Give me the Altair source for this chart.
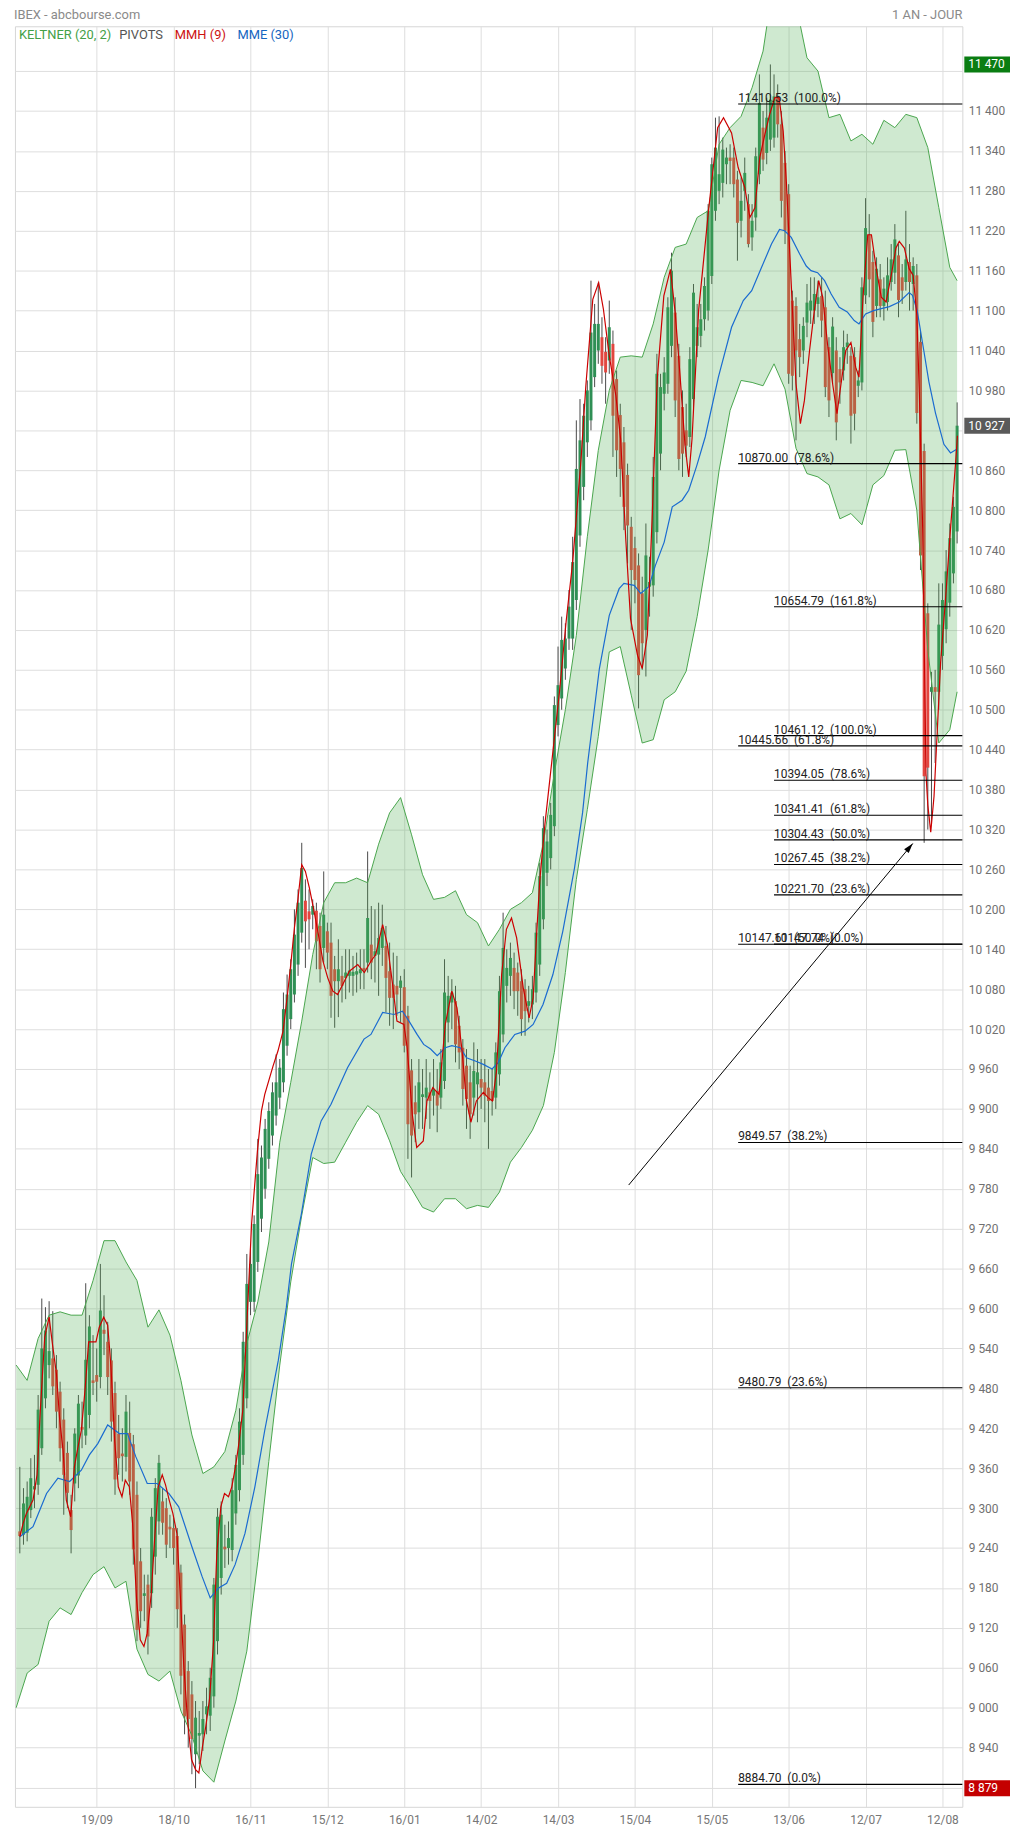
import altair as alt
import pandas as pd

# ---------------- data ----------------
opens = [9265,9260,9263,9297,9328,9335,9390,9465,9515,9525,
 9508,9475,9433,9383,9297,9337,9349,9422,9409,9440,
 9492,9500,9497,9568,9550,9522,9473,9412,9382,9377,
 9413,9396,9320,9220,9168,9185,9172,9227,9280,9310,
 9300,9272,9270,9258,9203,9125,9055,9020,8930,8958,
 8960,8990,8988,9017,9100,9195,9242,9240,9237,9292,
 9327,9380,9465,9610,9610,9670,9735,9780,9825,9860,
 9890,9917,9940,9995,10035,10072,10117,10165,10213,10197,
 10192,10198,10175,10142,10167,10150,10110,10092,10100,10097,
 10100,10100,10102,10104,10112,10120,10147,10130,10132,10142,
 10145,10107,10087,10085,10082,10083,10040,9958,9910,9895,
 9918,9917,9925,9920,9927,9917,9942,10030,10060,10062,
 10025,9992,9965,9940,9917,9937,9945,9940,9932,9927,
 9917,9952,10012,10085,10100,10112,10105,10092,10080,10055,
 10057,10075,10117,10185,10255,10277,10325,10477,10517,10562,
 10607,10607,10665,10762,10835,10902,10935,11000,11040,11060,
 11038,11025,11050,10997,10943,10902,10853,10775,10743,10717,
 10675,10620,10685,10687,10767,10885,10975,10990,11047,11097,
 11032,10955,10920,10910,10967,11047,11062,11087,11100,11152,
 11250,11280,11292,11320,11330,11330,11297,11235,11280,11260,
 11210,11240,11305,11375,11337,11357,11360,11420,11380,11322,
 11275,11115,11107,11057,11040,11082,11100,11100,11110,11122,
 11105,11045,11006,11040,11012,11010,11045,11032,11030,10987,
 10992,11123,11214,11173,11107,11147,11107,11113,11143,11157,
 11183,11150,11143,11173,11140,11153,11053,10889,10645,10527,
 10534,10527,10581,10621,10661,10705,10768]

highs = [9362,9330,9340,9375,9380,9470,9615,9602,9611,9596,
 9530,9490,9450,9400,9320,9420,9470,9460,9638,9590,
 9560,9540,9667,9620,9580,9540,9490,9440,9420,9470,
 9460,9410,9340,9240,9200,9200,9300,9345,9380,9330,
 9315,9290,9285,9270,9215,9140,9070,9040,9010,8995,
 9010,9030,9060,9195,9300,9310,9275,9280,9345,9380,
 9450,9565,9682,9690,9740,9855,9845,9885,9910,9940,
 9982,9975,10075,10102,10125,10200,10230,10300,10245,10230,
 10215,10210,10195,10257,10180,10180,10130,10155,10130,10140,
 10140,10130,10135,10140,10140,10287,10205,10200,10210,10207,
 10175,10150,10135,10130,10100,10110,10055,9975,9935,9975,
 9960,9975,9955,9975,9960,9990,10125,10100,10095,10085,
 10040,10005,9990,9965,10000,9990,9975,9975,9960,9960,
 10000,10100,10195,10140,10150,10135,10120,10110,10095,10085,
 10100,10180,10270,10340,10320,10360,10520,10595,10640,10630,
 10680,10760,10935,10967,10960,10995,11145,11110,11142,11090,
 11060,11115,11070,11010,10960,10925,10870,10790,10760,10735,
 10700,10780,10730,10880,11035,11005,11030,11120,11187,11120,
 11050,10980,10960,11045,11140,11110,11110,11150,11260,11330,
 11390,11392,11360,11345,11350,11345,11310,11300,11330,11275,
 11260,11345,11455,11400,11420,11470,11455,11440,11400,11340,
 11290,11130,11120,11080,11090,11140,11150,11150,11145,11150,
 11130,11060,11090,11060,11030,11070,11065,11045,11045,11010,
 11150,11269,11245,11190,11180,11170,11150,11180,11200,11230,
 11200,11170,11250,11200,11180,11170,11070,10900,10660,10557,
 10560,10690,10690,10740,10780,10820,10962]

lows = [9232,9245,9250,9285,9300,9320,9380,9450,9495,9470,
 9420,9370,9290,9300,9232,9310,9330,9390,9395,9420,
 9470,9460,9480,9530,9470,9400,9320,9350,9340,9355,
 9320,9215,9100,9120,9130,9080,9150,9200,9260,9260,
 9225,9240,9215,9120,9020,8960,8940,8900,8879,8915,
 8935,8960,8965,9000,9080,9170,9210,9215,9220,9275,
 9310,9365,9450,9590,9595,9655,9715,9765,9810,9845,
 9875,9900,9925,9980,10020,10060,10100,10150,10112,10140,
 10170,10110,10090,10120,10110,10037,10022,10038,10060,10065,
 10075,10070,10075,10080,10080,10105,10095,10090,10070,10115,
 10045,10025,10020,10040,10030,9985,9825,9797,9850,9870,
 9870,9885,9870,9890,9865,9900,9930,10000,10020,9970,
 9960,9905,9870,9855,9890,9880,9900,9880,9840,9890,
 9900,9935,10000,10060,10070,10050,10040,10010,10010,10030,
 10035,10060,10100,10170,10235,10260,10310,10460,10500,10545,
 10590,10590,10650,10745,10815,10880,10920,10985,11020,10990,
 10960,11005,10880,10850,10820,10770,10720,10620,10660,10502,
 10560,10550,10640,10670,10750,10860,10950,10975,11030,10940,
 10860,10850,10880,10895,10950,11030,11045,11070,11085,11140,
 11235,11260,11270,11290,11290,11270,11175,11210,11250,11195,
 11190,11220,11290,11310,11320,11340,11345,11360,11240,11200,
 10990,10980,10905,11000,11020,11060,11080,11080,11090,11060,
 10970,10940,10990,10905,10960,10995,11020,10900,10920,10970,
 10980,11110,11120,11060,11090,11090,11085,11100,11130,11140,
 11090,11110,11130,11100,11100,10930,10710,10300,10320,10330,
 10420,10500,10560,10600,10640,10690,10750]

closes = [9258,9307,9317,9345,9333,9448,9540,9567,9536,9483,
 9445,9390,9350,9323,9267,9412,9457,9418,9523,9573,
 9488,9490,9597,9562,9497,9430,9343,9375,9378,9445,
 9340,9238,9117,9145,9172,9107,9287,9330,9368,9278,
 9245,9268,9240,9148,9048,8987,8983,8953,8985,8962,
 8983,9002,9045,9185,9287,9290,9238,9255,9327,9365,
 9430,9550,9637,9667,9727,9802,9827,9870,9897,9925,
 9940,9962,10050,10072,10110,10162,10210,10262,10182,10185,
 10205,10152,10110,10192,10135,10070,10092,10110,10085,10105,
 10108,10106,10107,10110,10108,10187,10120,10137,10157,10172,
 10097,10067,10067,10072,10093,9995,9877,9860,9892,9940,
 9922,9932,9912,9930,9905,9970,10075,10070,10075,9997,
 9985,9930,9915,9892,9957,9955,9932,9920,9912,9912,
 9985,10077,10142,10112,10127,10077,10077,10035,10047,10062,
 10080,10165,10250,10322,10302,10342,10507,10537,10605,10607,
 10655,10722,10862,10905,10942,10980,11067,11080,11080,11017,
 11007,11075,10942,10890,10862,10805,10777,10710,10695,10552,
 10600,10732,10692,10850,11005,10985,11007,11105,11160,10965,
 10877,10885,10897,11027,11127,11075,11087,11137,11250,11320,
 11345,11305,11342,11330,11325,11290,11232,11265,11307,11200,
 11235,11332,11412,11327,11390,11417,11422,11380,11265,11220,
 11005,11002,11040,11030,11077,11112,11115,11125,11120,11085,
 10985,10965,11076,10932,10992,11045,11052,10942,10945,10995,
 11135,11224,11147,11083,11163,11107,11133,11153,11177,11207,
 11116,11130,11177,11143,11167,10946,10732,10400,10413,10534,
 10527,10628,10665,10708,10758,10805,10927]

date_labels = ["19/09", "18/10", "16/11", "15/12", "16/01", "14/02",
               "14/03", "15/04", "15/05", "13/06", "12/07", "12/08"]
date_index = [21, 42, 63, 84, 105, 126, 147, 168, 189, 210, 231, 252]

band_index = [-1,2,5,8,11,14,17,20,23,26,29,32,35,38,41,44,47,50,53,56,59,62,65,68,71,74,77,80,
              83,86,89,92,95,98,101,104,107,110,113,116,119,122,125,128,131,134,137,140,143,146,
              149,152,155,158,161,164,167,170,173,176,179,182,185,188,191,194,197,200,203,206,209,
              212,215,218,221,224,227,230,233,236,239,242,245,248,251,254,256]
band_upper = [9515,9492,9555,9590,9595,9590,9590,9642,9702,9702,9670,9642,9572,9598,9560,9492,9410,
              9352,9362,9385,9447,9547,9610,9700,9850,9940,10032,10132,10210,10240,10240,10247,10240,
              10298,10345,10368,10312,10252,10215,10218,10228,10192,10180,10145,10170,10200,10210,
              10225,10300,10405,10500,10612,10760,10890,10980,11030,11032,11030,11080,11150,11195,
              11200,11240,11250,11350,11375,11392,11435,11490,11600,11620,11560,11480,11460,11390,
              11395,11355,11365,11350,11386,11375,11395,11390,11345,11255,11165,11145]
band_lower = [9000,9052,9065,9130,9150,9140,9173,9200,9212,9180,9190,9088,9050,9040,9055,8995,8958,
              8905,8888,8950,9010,9085,9220,9370,9515,9640,9740,9827,9818,9820,9850,9880,9905,9892,
              9852,9806,9780,9752,9745,9765,9765,9750,9755,9752,9775,9820,9842,9868,9905,9985,10105,
              10245,10350,10460,10587,10595,10522,10450,10455,10515,10527,10558,10640,10740,10860,
              10950,10995,10992,10987,11020,10982,10893,10855,10850,10838,10787,10795,10778,10838,
              10852,10890,10891,10800,10590,10450,10470,10527]

mme_points = [(0,9257),(3.6,9272),(7.3,9322),(10.4,9345),(13.6,9340),(16.8,9357),(19,9380),(21.3,9397),
 (24,9425),(27.2,9412),(29.4,9412),(31.7,9377),(34.8,9337),(37.5,9337),(40.7,9322),(43.4,9302),(47,9242),
 (49.8,9197),(52,9165),(54.3,9180),(56.5,9187),(58.8,9215),(61.5,9262),(64.2,9332),(66.9,9417),(70.6,9522),
 (72.8,9602),(74.2,9667),(76.9,9742),(79.6,9832),(82.3,9882),(85,9907),(89.5,9962),(94,10005),(95.9,10012),
 (99.1,10045),(102.2,10042),(104.5,10047),(106.3,10032),(108.5,10012),(110.3,9997),(112.2,9990),(114,9980),
 (116.2,9992),(118,9995),(120.3,9992),(122,9977),(124.4,9972),(126.6,9967),(129,9960),(130.7,9970),
 (132.5,9992),(135.2,10012),(138,10017),(140.2,10027),(142.9,10057),(145.6,10102),(148.3,10167),
 (151.5,10262),(153.7,10345),(155.1,10420),(158.3,10562),(161,10642),(163.7,10682),(165,10690),
 (167.8,10687),(169.6,10675),(171.8,10685),(173.6,10717),(176,10752),(178.2,10805),(180.9,10815),
 (182.7,10830),(184.9,10867),(187.2,10910),(190.8,11000),(194.4,11075),(197.6,11115),(199.9,11130),
 (202.6,11165),(205.3,11200),(207.5,11222),(208.9,11220),(210.7,11210),(213,11185),(214.8,11167),
 (216.1,11160),(217.9,11157),(219.8,11145),(221.6,11125),(223.8,11105),(226,11098),(227.9,11085),
 (229.2,11080),(231,11095),(233.2,11100),(235.3,11103),(237.5,11106),(240.2,11113),(242.9,11127),
 (243.8,11123),(245.1,11100),(246.9,11040),(248.3,10993),(250.1,10946),(252.4,10899),(254.2,10886),
 (256,10892)]

mmh_points = [(0,9257),(0.9,9277),(1.8,9292),(3.6,9312),(4.7,9350),(5.6,9447),(6.8,9557),(8,9587),
 (8.9,9547),(10,9502),(10.9,9432),(11.8,9387),(12.7,9312),(13.9,9287),(14.9,9362),(15.9,9392),(16.8,9417),
 (17.8,9477),(18.8,9550),(20.8,9550),(21.7,9572),(22.9,9587),(24,9575),(24.9,9512),(25.9,9402),(26.9,9332),
 (27.9,9317),(28.8,9342),(29.9,9332),(30.8,9277),(31.9,9162),(32.9,9102),(33.9,9092),(34.8,9112),
 (35.9,9172),(36.8,9252),(37.8,9332),(38.9,9350),(39.8,9335),(40.8,9312),(41.8,9292),(42.9,9262),
 (43.9,9162),(44.8,9062),(45.8,8982),(46.9,8922),(48,8907),(48.9,8902),(49.9,8942),(50.8,8972),
 (51.8,9012),(52.9,9097),(53.8,9232),(54.9,9302),(55.9,9322),(57,9317),(57.9,9332),(58.9,9362),
 (59.7,9392),(60.9,9447),(62,9575),(63.3,9727),(64.9,9837),(66,9897),(66.9,9922),(69.2,9965),
 (70.5,9987),(71.9,10017),(73,10067),(74,10117),(75,10172),(76,10217),(77,10267),(78,10257),
 (79.1,10232),(80.2,10202),(81.4,10167),(82.8,10122),(84.1,10097),(85.5,10077),(86.8,10072),
 (88.2,10087),(90,10107),(92.3,10117),(94.1,10105),(95.9,10122),(97.2,10132),(99.1,10177),
 (100.4,10147),(101.7,10092),(103,10032),(104.9,10027),(105.8,9992),(107.2,9892),(108.4,9842),
 (110.2,9852),(111.2,9912),(112.8,9932),(114.5,9922),(116.2,10027),(118,10077),(119.4,10052),
 (120.7,9992),(122,9912),(123.2,9880),(124.7,9912),(126.6,9925),(127.9,9917),(129.1,9912),
 (130.2,9957),(131.6,10102),(132.9,10170),(134.3,10187),(135.7,10157),(137.5,10082),(139.1,10037),
 (140.2,10067),(141.1,10157),(142,10242),(143.4,10327),(144.7,10392),(145.6,10437),(147.4,10527),
 (149.2,10632),(151,10722),(153.3,10877),(154.6,10987),(156.5,11117),(158.1,11142),(159.4,11102),
 (161,11032),(162.8,10972),(164.1,10907),(165.5,10757),(166.8,10637),(168.7,10582),(170,10562),
 (171.4,10612),(172.7,10787),(174.1,10997),(175.9,11122),(177.7,11162),(179,11097),(180.4,10997),
 (181.7,10897),(182.7,10850),(183.6,10907),(185.4,11100),(188.1,11250),(190.6,11375),(192.2,11390),
 (194.4,11367),(196.2,11315),(198,11285),(199.4,11240),(200.8,11255),(202.1,11330),(203.5,11365),
 (204.8,11395),(206.2,11420),(207.4,11420),(208.5,11370),(209.4,11290),(210.7,11140),(212,10990),
 (213.2,10930),(214.3,10965),(215.7,11040),(217,11100),(218.2,11145),(219.3,11120),(220.7,11045),
 (222,10990),(223.2,10945),(224.3,10990),(225.6,11040),(227,11052),(228.3,11015),(229.2,11000),
 (230.3,11120),(231.6,11214),(232.6,11214),(234,11160),(235.3,11120),(236.6,11113),(238,11153),
 (239.3,11194),(240.2,11204),(241.6,11194),(242.9,11163),(244,11153),(245,11093),(245.7,10973),
 (246.6,10772),(247.1,10571),(247.5,10404),(248,10357),(248.8,10316),(249.7,10370),(250.6,10470),
 (251.5,10571),(252.9,10671),(254.2,10772),(255.6,10872),(256.1,10912)]

fibA_values = [11410.53, 10870.00, 10445.66, 10147.61, 9849.57, 9480.79, 8884.70]
fibA_pcts = ["100.0%", "78.6%", "61.8%", "50.0%", "38.2%", "23.6%", "0.0%"]
fibA_start = 196.2
fibB_values = [10654.79, 10461.12, 10394.05, 10341.41, 10304.43, 10267.45, 10221.70, 10147.74]
fibB_pcts = ["161.8%", "100.0%", "78.6%", "61.8%", "50.0%", "38.2%", "23.6%", "0.0%"]
fibB_start = 206.0

arrow_index = [166.3, 243.9]
arrow_values = [9785.6, 10299.0]

box_values = [11470, 10927, 8879]
box_texts = ["11 470", "10 927", "8 879"]
box_colors = ["#0a7d12", "#5a5a5a", "#c40000"]
hidden_tick_labels = [11460, 10920, 8880]

legend_texts = ["KELTNER (20, 2)", "PIVOTS", "MMH (9)", "MME (30)"]
legend_colors = ["#43a047", "#555555", "#cc1111", "#1565c0"]
header_left = "IBEX - abcbourse.com"
header_right = "1 AN - JOUR"

# ---------------- chart ----------------
W, H = 954, 1793
FONT = "Roboto"
xs = alt.Scale(domain=[-1.33, 257.43], nice=False, zero=False)
ys = alt.Scale(domain=[8851, 11527.4], nice=False, zero=False)

label_arr = "[" + ",".join("'%s'" % d for d in date_labels) + "]"
hide_cond = " || ".join("datum.value == %d" % v for v in hidden_tick_labels)
x_axis = alt.Axis(values=date_index, labelExpr=label_arr + "[round((datum.value-21)/21)]",
                  grid=True, gridColor="#dedede", ticks=False, domain=False,
                  labelColor="#777777", labelFontSize=12, labelFont=FONT, labelPadding=8, title=None)
y_axis = alt.Axis(orient="right", values=list(range(8880, 11461, 60)),
                  labelExpr="(" + hide_cond + ") ? '' : replace(format(datum.value, ','), ',', ' ')",
                  grid=True, gridColor="#dedede", ticks=False, domain=False,
                  labelColor="#707070", labelFontSize=12, labelFont=FONT, labelPadding=6,
                  labelBaseline="middle", title=None)


def X(f):
    return alt.X(f, type="quantitative", scale=xs, axis=x_axis)


def Y(f):
    return alt.Y(f, type="quantitative", scale=ys, axis=y_axis)


candles = pd.DataFrame({"i": list(range(len(closes))), "o": opens, "h": highs, "l": lows, "c": closes})
band = pd.DataFrame({"i": band_index, "up": band_upper, "lo": band_lower})
mme = pd.DataFrame(mme_points, columns=["i", "v"])
mmh = pd.DataFrame(mmh_points, columns=["i", "v"])
fib = pd.DataFrame({
    "i": [fibA_start] * len(fibA_values) + [fibB_start] * len(fibB_values),
    "v": fibA_values + fibB_values,
    "t": ["%.2f\u00a0\u00a0(%s)" % (v, p) for v, p in zip(fibA_values, fibA_pcts)]
       + ["%.2f\u00a0\u00a0(%s)" % (v, p) for v, p in zip(fibB_values, fibB_pcts)],
})
arrow = pd.DataFrame({"i": arrow_index, "v": arrow_values})
arrow_head = arrow.iloc[[1]]
boxes = pd.DataFrame({"v": box_values, "t": box_texts, "col": box_colors})

wicks = alt.Chart(candles).mark_rule(color="#4a4a4a", strokeWidth=1).encode(
    x=X("i"), y=Y("l"), y2="h")
bodies = alt.Chart(candles).transform_calculate(
    col="datum.c >= datum.o ? '#2f8f55' : '#e2463f'"
).mark_rule(strokeWidth=3, strokeCap="butt").encode(
    x=X("i"), y=Y("o"), y2="c", color=alt.Color("col:N", scale=None))

band_fill = alt.Chart(band).mark_area(color="#4caf50", opacity=0.27, clip=True).encode(
    x=X("i"), y=Y("up"), y2="lo")
band_up = alt.Chart(band).mark_line(color="#4aa54e", strokeWidth=1, clip=True).encode(x=X("i"), y=Y("up"))
band_lo = alt.Chart(band).mark_line(color="#4aa54e", strokeWidth=1, clip=True).encode(x=X("i"), y=Y("lo"))

mme_line = alt.Chart(mme).mark_line(color="#1a6bd0", strokeWidth=1.2).encode(x=X("i"), y=Y("v"))
mmh_line = alt.Chart(mmh).mark_line(color="#cc0000", strokeWidth=1.2).encode(x=X("i"), y=Y("v"))

fib_rules = alt.Chart(fib).mark_rule(color="#000000", strokeWidth=1.1).encode(
    x=X("i"), x2=alt.value(W), y=Y("v"))
fib_text = alt.Chart(fib).mark_text(align="left", baseline="alphabetic", dy=-2, fontSize=12,
                                    font=FONT, color="#222222").encode(x=X("i"), y=Y("v"), text="t:N")

arrow_line = alt.Chart(arrow).mark_line(color="#000000", strokeWidth=1).encode(x=X("i"), y=Y("v"))
arrow_tip = alt.Chart(arrow_head).mark_point(
    shape="M0,0 L-0.3,1 L0.3,1 Z", size=400, angle=40, filled=True, opacity=1, color="#000000"
).encode(x=X("i"), y=Y("v"))

box_rects = alt.Chart(boxes).mark_rule(strokeWidth=16, strokeCap="butt").encode(
    x=alt.value(956), x2=alt.value(1003), y=Y("v"), color=alt.Color("col:N", scale=None))
box_text = alt.Chart(boxes).mark_text(align="left", baseline="middle", fontSize=12, font=FONT,
                                      color="white").encode(x=alt.value(960), y=Y("v"), text="t:N")

layers = [wicks, bodies, band_fill, band_up, band_lo, mme_line, mmh_line, fib_rules, fib_text,
          arrow_line, arrow_tip, box_rects, box_text]

legend_x = [4, 105, 161, 224]
for k, (t, c) in enumerate(zip(legend_texts, legend_colors)):
    layers.append(alt.Chart(pd.DataFrame({"t": [t]})).mark_text(
        align="left", baseline="middle", fontSize=13, font=FONT, color=c
    ).encode(x=alt.value(legend_x[k]), y=alt.value(9), text="t:N"))

layers.append(alt.Chart(pd.DataFrame({"t": [header_left]})).mark_text(
    align="left", baseline="middle", fontSize=13, font=FONT, color="#8a8a8a"
).encode(x=alt.value(-1), y=alt.value(-11), text="t:N"))
layers.append(alt.Chart(pd.DataFrame({"t": [header_right]})).mark_text(
    align="right", baseline="middle", fontSize=13, font=FONT, color="#8a8a8a"
).encode(x=alt.value(W), y=alt.value(-11), text="t:N"))

chart = alt.layer(*layers).properties(
    width=W, height=H,
    autosize=alt.AutoSizeParams(type="none"),
    padding={"left": 7, "top": 12, "right": 48, "bottom": 22},
).configure_view(stroke="#d6d6d6", strokeWidth=1)

chart.save("out.html", embed_options={"renderer": "svg", "actions": False})
